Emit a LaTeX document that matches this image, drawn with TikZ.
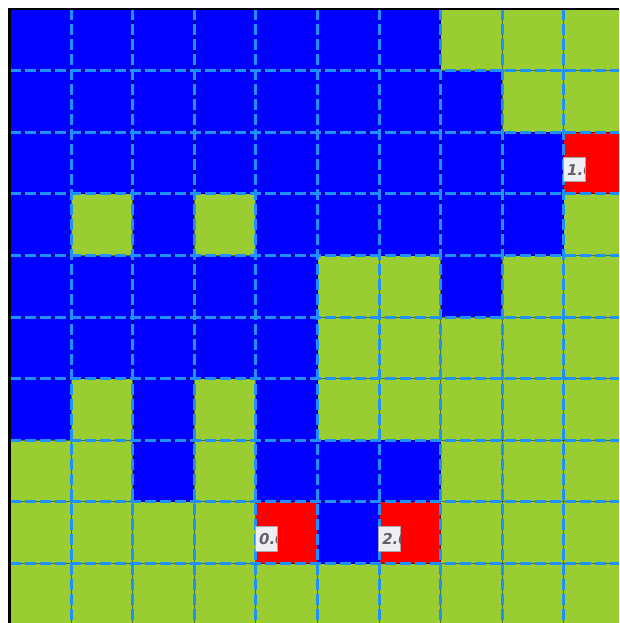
\documentclass[tikz,border=0pt]{standalone}
\usepackage{fontspec}
\newfontfamily\lblfont{DejaVu Sans}
\definecolor{cB}{HTML}{0000FF}
\definecolor{cG}{HTML}{9ACD32}
\definecolor{cR}{HTML}{FF0000}
\definecolor{gridc}{HTML}{1E90FF}
\definecolor{lblfill}{HTML}{EEEEF4}
\definecolor{lbltext}{HTML}{606068}
\tikzset{
  gridshadow/.style={draw=black, draw opacity=0.45, line width=1pt},
  gridline/.style={draw=gridc, line width=3pt, dash pattern=on 11pt off 4pt},
  lblbox/.style={fill=lblfill, draw=black!35, line width=1pt},
  lbltxt/.style={anchor=base west, inner sep=0pt, text=lbltext, font=\lblfont\bfseries\itshape\fontsize{15}{18}\selectfont}
}
\begin{document}
\begin{tikzpicture}[x=1pt,y=-1pt]
\useasboundingbox (0,0) rectangle (619,623);
\fill[white] (0,0) rectangle (619,623);
\def\ox{9.5}\def\oy{9.1}\def\cs{61.6}
\begin{scope}
\clip (\ox,\oy) rectangle (619,623);
% rows top to bottom
\foreach \row [count=\r from 0] in {
  {B,B,B,B,B,B,B,G,G,G},
  {B,B,B,B,B,B,B,B,G,G},
  {B,B,B,B,B,B,B,B,B,R},
  {B,G,B,G,B,B,B,B,B,G},
  {B,B,B,B,B,G,G,B,G,G},
  {B,B,B,B,B,G,G,G,G,G},
  {B,G,B,G,B,G,G,G,G,G},
  {G,G,B,G,B,B,B,G,G,G},
  {G,G,G,G,R,B,R,G,G,G},
  {G,G,G,G,G,G,G,G,G,G}} {
  \foreach \c [count=\k from 0] in \row {
    \fill[c\c] ({\ox+\k*\cs},{\oy+\r*\cs}) rectangle ({\ox+(\k+1)*\cs},{\oy+(\r+1)*\cs});
  }
}
\foreach \k in {1,...,10} {
  \draw[gridshadow] ({\ox+\k*\cs},\oy) -- ({\ox+\k*\cs},623);
  \draw[gridshadow] (\ox,{\oy+\k*\cs}) -- (619,{\oy+\k*\cs});
}
\foreach \k in {1,...,10} {
  \draw[gridline] ({\ox+\k*\cs},\oy) -- ({\ox+\k*\cs},623);
  \draw[gridline] (\ox,{\oy+\k*\cs}) -- (619,{\oy+\k*\cs});
}
\end{scope}
% border top and left
\draw[black, line width=2.5pt] (\ox,623) -- (\ox,\oy) -- (619,\oy);
% labels
\foreach \lc/\lr/\t/\nm in {9/2/1.0/la, 4/8/0.0/lb, 6/8/2.0/lc} {
  \begin{scope}
    \path[lblbox] ({\ox+\lc*\cs-0.5},{\oy+\lr*\cs+25}) rectangle ({\ox+\lc*\cs+21.5},{\oy+\lr*\cs+49.5});
    \clip ({\ox+\lc*\cs},{\oy+\lr*\cs+25.5}) rectangle ({\ox+\lc*\cs+21},{\oy+\lr*\cs+49});
    \node[lbltxt] (\nm) at ({\ox+\lc*\cs+3},{\oy+\lr*\cs+43}) {\t};
  \end{scope}
}
\end{tikzpicture}
\end{document}
